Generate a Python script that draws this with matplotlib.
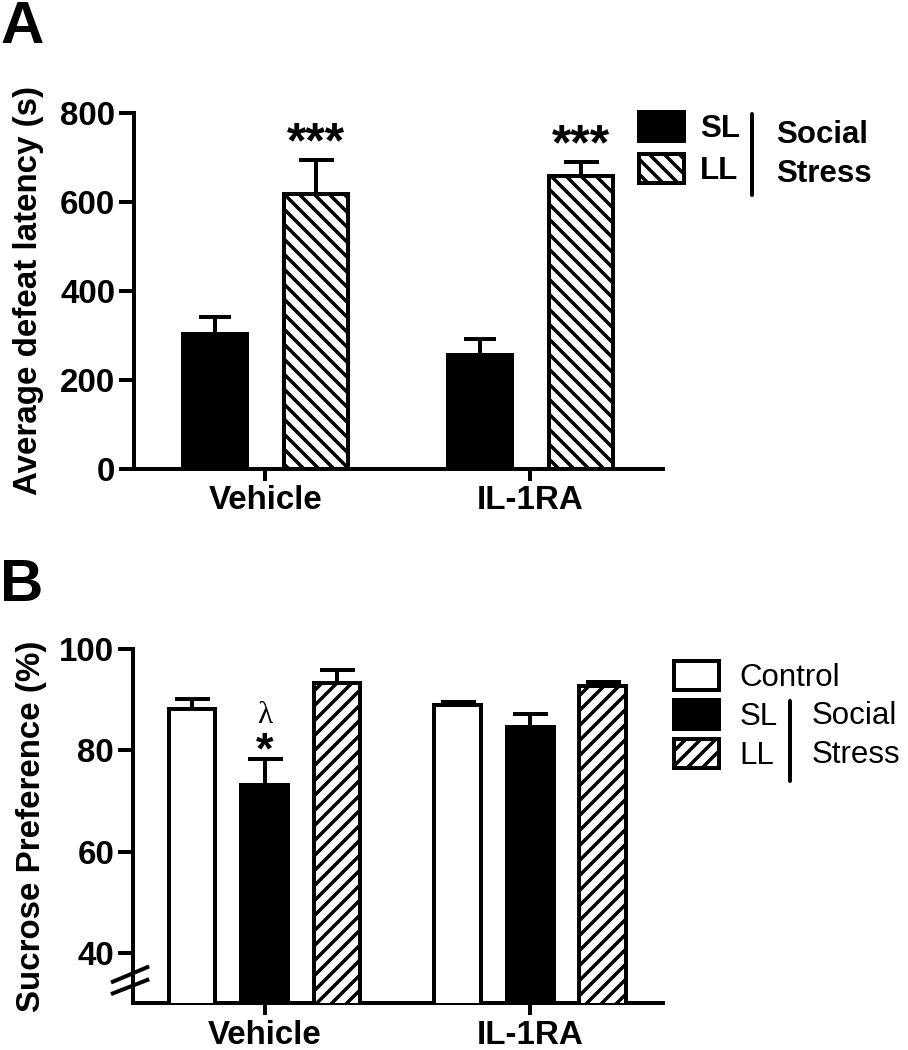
import matplotlib
matplotlib.use("Agg")
import matplotlib.pyplot as plt
from matplotlib.patches import Patch
from matplotlib.lines import Line2D
import numpy as np

# ---------------- data ----------------
groups = ["Vehicle", "IL-1RA"]

# Panel A: average defeat latency (s)
a_series = ["SL", "LL"]
a_sl_mean = [302, 256]
a_sl_sem = [39, 36]
a_ll_mean = [619, 659]
a_ll_sem = [76, 32]
a_yticks = [0, 200, 400, 600, 800]

# Panel B: sucrose preference (%)
b_series = ["Control", "SL", "LL"]
b_ctrl_mean = [88.2, 89.0]
b_ctrl_sem = [2.0, 0.6]
b_sl_mean = [73.2, 84.6]
b_sl_sem = [5.2, 2.6]
b_ll_mean = [93.3, 92.7]
b_ll_sem = [2.6, 0.9]
b_yticks = [40, 60, 80, 100]

# ---------------- style ----------------
DPI = 90
W, H = 908, 1050
plt.rcParams["font.family"] = ["Liberation Sans", "DejaVu Sans"]
plt.rcParams["hatch.linewidth"] = 2.8
plt.rcParams["hatch.color"] = "black"

FS = 26.5
LW = 3.2
HATCH_A = "\\\\"
HATCH_B = "//"

fig = plt.figure(figsize=(W / DPI, H / DPI), dpi=DPI)


def fx(px):
    return px / W


def fy(py):
    return 1 - py / H


def style_axes(ax, ylim, yticks):
    ax.set_ylim(*ylim)
    ax.set_xlim(-0.495, 1.5)
    ax.set_yticks(yticks)
    ax.set_xticks([0, 1])
    ax.set_xticklabels(groups)
    for s in ["top", "right"]:
        ax.spines[s].set_visible(False)
    for s in ["left", "bottom"]:
        ax.spines[s].set_linewidth(LW)
    ax.tick_params(axis="y", direction="out", length=12, width=LW, pad=3,
                   labelsize=FS)
    ax.tick_params(axis="x", direction="out", length=9.5, width=LW, pad=4,
                   labelsize=FS)
    for lab in ax.get_xticklabels() + ax.get_yticklabels():
        lab.set_fontweight("bold")


x = np.arange(len(groups))

# ---------------- Panel A ----------------
axA = fig.add_axes([fx(134), fy(468.5), fx(663 - 134), (468.5 - 113.3) / H])
wA = 0.242
offA = 0.19
axA.bar(x - offA, a_sl_mean, wA, color="black", edgecolor="black",
        linewidth=LW, zorder=3)
axA.bar(x + offA, a_ll_mean, wA, color="white", edgecolor="black",
        linewidth=LW, hatch=HATCH_A, zorder=3)
axA.errorbar(x - offA, a_sl_mean, yerr=[np.zeros(2), a_sl_sem], fmt="none",
             ecolor="black", elinewidth=LW, capsize=13, capthick=LW, zorder=2)
axA.errorbar(x + offA, a_ll_mean, yerr=[np.zeros(2), a_ll_sem], fmt="none",
             ecolor="black", elinewidth=LW, capsize=14, capthick=LW, zorder=2)
style_axes(axA, (0, 800), a_yticks)
axA.set_ylabel("Average defeat latency (s)", fontsize=FS, fontweight="bold")
axA.yaxis.set_label_coords(-0.17, 0.5)
for xi, m, s in zip(x + offA, a_ll_mean, a_ll_sem):
    axA.text(xi, m + s + 5, "***", ha="center", va="baseline",
             fontsize=40, fontweight="bold")

legA = axA.legend(
    handles=[Patch(facecolor="black", edgecolor="black", linewidth=LW),
             Patch(facecolor="white", edgecolor="black", linewidth=LW,
                   hatch=HATCH_A)],
    labels=a_series, loc="upper left", bbox_to_anchor=(fx(639), fy(112)),
    bbox_transform=fig.transFigure, frameon=False, borderpad=0,
    borderaxespad=0, handlelength=1.45, handleheight=1.07,
    handletextpad=0.5, labelspacing=0.3,
    prop={"size": 25, "weight": "bold"})
fig.add_artist(Line2D([fx(752), fx(752)], [fy(114), fy(195)], lw=LW,
                      color="black", solid_capstyle="round"))
fig.text(fx(776), fy(143), "Social", fontsize=25, fontweight="bold",
         va="baseline", ha="left")
fig.text(fx(776), fy(182), "Stress", fontsize=25, fontweight="bold",
         va="baseline", ha="left")
fig.text(fx(0), fy(0), "A", fontsize=48, fontweight="bold", va="top",
         ha="left")

# ---------------- Panel B ----------------
axB = fig.add_axes([fx(133), fy(1003.3), fx(663 - 133), (1003.3 - 649.3) / H])
wB = 0.176
offB = 0.273
axB.bar(x - offB, b_ctrl_mean, wB, color="white", edgecolor="black",
        linewidth=LW, zorder=3)
axB.bar(x, b_sl_mean, wB, color="black", edgecolor="black",
        linewidth=LW, zorder=3)
axB.bar(x + offB, b_ll_mean, wB, color="white", edgecolor="black",
        linewidth=LW, hatch=HATCH_B, zorder=3)
for xs, m, s in [(x - offB, b_ctrl_mean, b_ctrl_sem), (x, b_sl_mean, b_sl_sem),
                 (x + offB, b_ll_mean, b_ll_sem)]:
    axB.errorbar(xs, m, yerr=[np.zeros(2), s], fmt="none", ecolor="black",
                 elinewidth=LW, capsize=14, capthick=LW, zorder=2)
style_axes(axB, (30, 100), b_yticks)
axB.set_ylabel("Sucrose Preference (%)", fontsize=FS, fontweight="bold")
axB.yaxis.set_label_coords(-0.163, 0.5)
axB.text(x[0], b_sl_mean[0] + b_sl_sem[0] - 0.9, "*", ha="center",
         va="baseline", fontsize=36, fontweight="bold")
axB.text(x[0], b_sl_mean[0] + b_sl_sem[0] + 7.0, "λ", ha="center",
         va="baseline", fontsize=25, family=["Liberation Serif", "DejaVu Serif"])
# axis break marks
for y0, y1 in [(0.028, 0.066), (0.061, 0.102)]:
    axB.plot([-0.038, 0.027], [y0, y1], transform=axB.transAxes,
             color="black", lw=LW, clip_on=False, zorder=5)

legB = axB.legend(
    handles=[Patch(facecolor="white", edgecolor="black", linewidth=LW),
             Patch(facecolor="black", edgecolor="black", linewidth=LW),
             Patch(facecolor="white", edgecolor="black", linewidth=LW,
                   hatch=HATCH_B)],
    labels=b_series, loc="upper left", bbox_to_anchor=(fx(674), fy(661)),
    bbox_transform=fig.transFigure, frameon=False, borderpad=0,
    borderaxespad=0, handlelength=1.45, handleheight=1.05,
    handletextpad=0.65, labelspacing=0.22, prop={"size": 25})
fig.add_artist(Line2D([fx(790), fx(790)], [fy(701), fy(781)], lw=LW,
                      color="black", solid_capstyle="round"))
fig.text(fx(812), fy(724), "Social", fontsize=25, va="baseline", ha="left")
fig.text(fx(812), fy(763), "Stress", fontsize=25, va="baseline", ha="left")
fig.text(fx(0), fy(558), "B", fontsize=48, fontweight="bold", va="top",
         ha="left")

fig.savefig("out.png", dpi=DPI)
